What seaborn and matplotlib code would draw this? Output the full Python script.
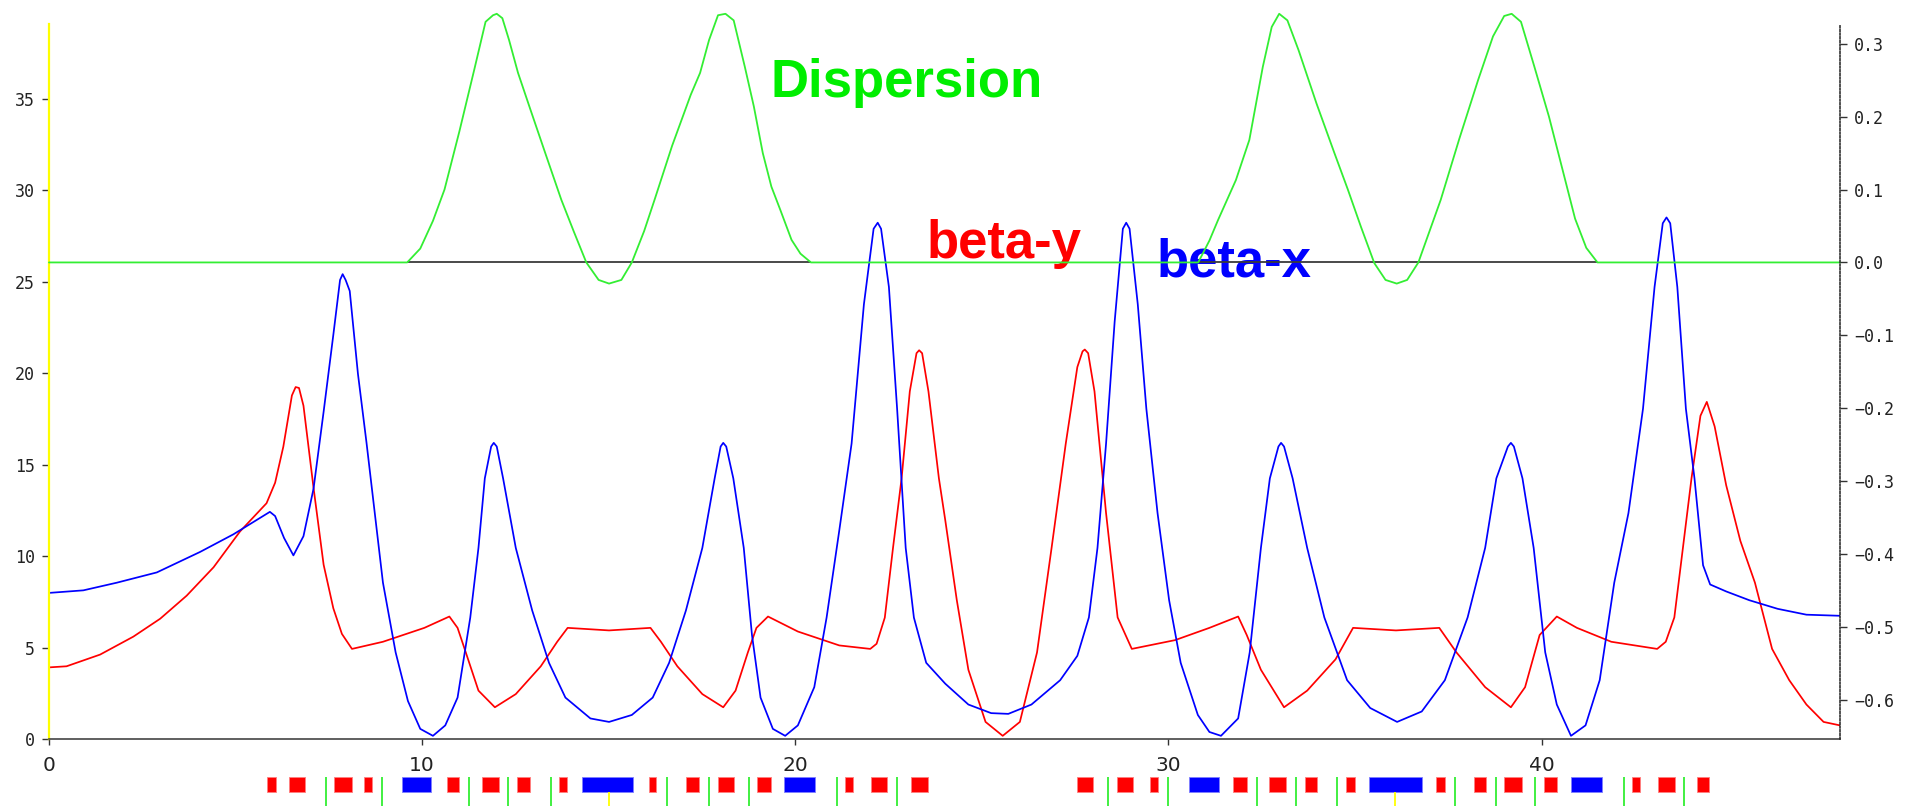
import matplotlib
matplotlib.use("Agg")
import matplotlib.pyplot as plt
import pandas as pd
import seaborn as sns

# Horizontal beta function (m) along the ring position s (m)
s_betax = [0.0, 0.92, 1.82, 2.89, 4.05, 4.94, 5.5, 5.92, 6.06, 6.3, 6.55, 6.82, 7.09, 7.36,
           7.62, 7.8, 7.87, 7.95, 8.06, 8.28, 8.51, 8.73, 8.95, 9.29, 9.62, 9.95, 10.29,
           10.62, 10.95, 11.29, 11.51, 11.68, 11.85, 11.92, 12.0, 12.17, 12.51, 12.95, 13.40,
           13.84, 14.51, 15.01, 15.62, 16.18, 16.62, 17.07, 17.51, 17.84, 18.0, 18.07, 18.15,
           18.34, 18.62, 18.84, 19.07, 19.40, 19.73, 20.07, 20.51, 20.84, 21.18, 21.51, 21.84,
           22.1, 22.21, 22.3, 22.51, 22.73, 22.96, 23.18, 23.51, 24.02, 24.64, 25.25, 25.71,
           26.33, 27.10, 27.56, 27.87, 28.10, 28.33, 28.56, 28.78, 28.87, 28.96, 29.18, 29.41,
           29.71, 30.02, 30.33, 30.79, 31.10, 31.41, 31.87, 32.18, 32.48, 32.72, 32.95, 33.02,
           33.1, 33.33, 33.72, 34.18, 34.79, 35.41, 36.13, 36.79, 37.41, 38.02, 38.49, 38.79,
           39.1, 39.18, 39.26, 39.49, 39.79, 40.10, 40.41, 40.79, 41.18, 41.56, 41.95, 42.33,
           42.72, 43.03, 43.25, 43.35, 43.45, 43.64, 43.87, 44.10, 44.33, 44.52, 44.95, 45.57,
           46.33, 47.10, 48.0]
betax = [8.0, 8.14, 8.56, 9.12, 10.24, 11.2, 11.9, 12.43, 12.2, 11.0, 10.05, 11.1, 13.7, 17.9,
         22.1, 25.1, 25.42, 25.1, 24.5, 19.97, 16.2, 12.36, 8.56, 4.75, 2.09, 0.57, 0.19,
         0.76, 2.28, 6.65, 10.46, 14.26, 16.0, 16.2, 16.0, 14.26, 10.46, 7.04, 4.18,
         2.28, 1.14, 0.95, 1.33, 2.28, 4.18, 7.04, 10.46, 14.26, 16.0, 16.2, 16.0,
         14.26, 10.46, 5.7, 2.28, 0.57, 0.19, 0.76, 2.85, 6.65, 11.41, 16.16, 23.77,
         27.9, 28.23, 27.9, 24.72, 18.06, 10.46, 6.65, 4.18, 3.04, 1.90, 1.43, 1.39,
         1.90, 3.23, 4.56, 6.66, 10.46, 16.16, 22.82, 27.9, 28.23, 27.9, 23.77, 18.06,
         12.36, 7.6, 4.18, 1.33, 0.4, 0.19, 1.14, 4.75, 10.46, 14.26, 16.0, 16.2,
         16.0, 14.26, 10.46, 6.66, 3.23, 1.71, 0.95, 1.52, 3.23, 6.66, 10.46, 14.26,
         16.0, 16.2, 16.0, 14.26, 10.46, 4.75, 1.90, 0.19, 0.76, 3.23, 8.56, 12.36,
         18.06, 24.72, 28.2, 28.52, 28.2, 24.72, 18.06, 14.26, 9.51, 8.46, 8.08, 7.6,
         7.13, 6.81, 6.75]

# Vertical beta function (m)
s_betay = [0.0, 0.47, 1.37, 2.26, 2.98, 3.69, 4.41, 5.12, 5.83, 6.06, 6.28, 6.51, 6.61, 6.7,
           6.82, 7.09, 7.36, 7.62, 7.85, 8.12, 8.95, 10.06, 10.73, 10.95, 11.17, 11.51, 11.95,
           12.51, 13.18, 13.62, 13.90, 15.01, 16.12, 16.40, 16.84, 17.51, 18.07, 18.40, 18.73,
           18.96, 19.27, 20.07, 21.18, 22.01, 22.18, 22.40, 22.62, 22.85, 23.07, 23.25, 23.32,
           23.4, 23.57, 23.85, 24.02, 24.33, 24.64, 25.10, 25.56, 26.02, 26.48, 26.87, 27.25,
           27.56, 27.7, 27.76, 27.85, 28.02, 28.33, 28.64, 29.02, 30.18, 31.10, 31.87, 32.10,
           32.48, 33.10, 33.72, 34.48, 34.95, 36.10, 37.26, 37.72, 38.49, 39.18, 39.56, 39.95,
           40.41, 40.95, 41.87, 43.10, 43.33, 43.56, 43.79, 44.02, 44.26, 44.43, 44.64, 44.95,
           45.33, 45.72, 46.18, 46.64, 47.10, 47.56, 48.0]
betay = [3.93, 3.99, 4.63, 5.61, 6.59, 7.85, 9.40, 11.36, 12.90, 14.02, 15.99, 18.79, 19.25, 19.2,
         18.23, 13.74, 9.54, 7.16, 5.76, 4.94, 5.33, 6.09, 6.71, 6.09, 4.75, 2.66, 1.75,
         2.47, 3.99, 5.33, 6.09, 5.95, 6.09, 5.33, 3.99, 2.47, 1.75, 2.66, 4.75,
         6.09, 6.71, 5.89, 5.13, 4.94, 5.22, 6.65, 10.46, 14.26, 19.01, 21.1, 21.26,
         21.1, 19.01, 14.26, 11.98, 7.6, 3.8, 0.95, 0.19, 0.95, 4.75, 10.46, 16.16,
         20.34, 21.2, 21.3, 21.1, 19.01, 12.36, 6.66, 4.94, 5.42, 6.09, 6.71, 5.7,
         3.8, 1.75, 2.66, 4.37, 6.09, 5.95, 6.09, 4.75, 2.85, 1.75, 2.85, 5.7,
         6.71, 6.09, 5.33, 4.94, 5.33, 6.66, 10.46, 14.26, 17.68, 18.44, 17.1, 13.88,
         10.84, 8.56, 4.94, 3.23, 1.9, 0.95, 0.76]

# Horizontal dispersion (m)
s_disp = [0.0, 9.6, 9.95, 10.29, 10.6, 11.0, 11.4, 11.7, 11.9, 12.0, 12.15, 12.33, 12.57, 12.9,
          13.3, 13.73, 14.06, 14.4, 14.73, 15.01, 15.34, 15.62, 15.95, 16.23, 16.7, 17.2,
          17.45, 17.69, 17.93, 18.13, 18.35, 18.65, 18.89, 19.13, 19.36, 19.60, 19.90, 20.14,
          20.42, 30.8, 31.1, 31.33, 31.81, 32.17, 32.53, 32.77, 32.97, 33.19, 33.49, 33.97,
          34.45, 34.81, 35.16, 35.52, 35.82, 36.12, 36.4, 36.7, 37.0, 37.3, 37.8, 38.3,
          38.7, 39.0, 39.2, 39.45, 39.8, 40.2, 40.6, 40.9, 41.2, 41.5, 48.0]
disp = [0.0, 0.0, 0.019, 0.057, 0.10, 0.18, 0.265, 0.33, 0.339, 0.341, 0.335, 0.305, 0.26, 0.21,
        0.15, 0.086, 0.043, 0.0, -0.024, -0.029, -0.024, 0.0, 0.043, 0.086, 0.16, 0.23,
        0.26, 0.305, 0.339, 0.341, 0.332, 0.268, 0.214, 0.15, 0.104, 0.072, 0.031, 0.012,
        0.0, 0.0, 0.03, 0.058, 0.113, 0.168, 0.268, 0.323, 0.341, 0.332, 0.291, 0.218,
        0.15, 0.1, 0.049, -0.001, -0.024, -0.029, -0.024, 0.0, 0.043, 0.086, 0.17, 0.25,
        0.31, 0.338, 0.341, 0.33, 0.27, 0.2, 0.12, 0.06, 0.02, 0.0, 0.0]

# Stretches where the dispersion is non-zero (zero reference drawn in black there)
disp_zone_start = [9.6, 30.8]
disp_zone_end = [20.42, 41.5]

# Lattice elements along s
quad_spans = [(5.84, 6.08), (6.42, 6.86), (7.64, 8.12), (8.45, 8.66), (10.66, 10.98),
              (11.60, 12.05), (12.54, 12.90), (13.68, 13.88), (16.09, 16.28), (17.07, 17.43),
              (17.93, 18.36), (18.97, 19.34), (21.34, 21.54), (22.04, 22.47), (23.10, 23.55),
              (27.55, 27.99), (28.61, 29.04), (29.51, 29.73), (31.73, 32.10), (32.69, 33.16),
              (33.65, 33.98), (34.76, 34.99), (37.18, 37.41), (38.19, 38.52), (38.99, 39.49),
              (40.06, 40.42), (42.43, 42.65), (43.13, 43.57), (44.18, 44.50)]
dipole_spans = [(9.47, 10.24), (14.29, 15.66), (19.71, 20.52),
                (30.56, 31.37), (35.37, 36.79), (40.80, 41.61)]
monitor_pos = [7.42, 8.93, 11.25, 12.31, 13.46, 16.55, 17.69, 18.77, 21.12, 22.74,
               28.37, 30.0, 32.38, 33.43, 34.53, 37.67, 38.78, 39.83, 42.20, 43.83]
marker_pos = [15.0, 36.08]

# Axis ticks
s_ticks = [0, 10, 20, 30, 40]
beta_ticks = [0, 5, 10, 15, 20, 25, 30, 35]
disp_ticks = [-0.6, -0.5, -0.4, -0.3, -0.2, -0.1, 0.0, 0.1, 0.2, 0.3]

# Curve labels: (text, s, beta, colour)
labels = [("Dispersion", 19.33, 35.1, "#00ee00"),
          ("beta-y", 23.52, 26.3, "#ff0000"),
          ("beta-x", 29.69, 25.28, "#0000ff")]

sns.set_style("white")
plt.rcParams["font.family"] = ["DejaVu Sans"]

RED, BLUE, GREEN, YELLOW = "#ff0000", "#0000ff", "#33ee33", "#ffff00"
W_PX, H_PX = 1916, 806
L, R, T, B = 49, 1840, 24, 739.3

fig = plt.figure(figsize=(W_PX / 100, H_PX / 100), dpi=100)
ax = fig.add_axes([L / W_PX, 1 - B / H_PX, (R - L) / W_PX, (B - T) / H_PX])
ax2 = ax.twinx()

df_bx = pd.DataFrame({"s": s_betax, "beta": betax})
df_by = pd.DataFrame({"s": s_betay, "beta": betay})
df_d = pd.DataFrame({"s": s_disp, "eta": disp})

sns.lineplot(data=df_by, x="s", y="beta", ax=ax, color=RED, lw=1.25,
             estimator=None, sort=False)
sns.lineplot(data=df_bx, x="s", y="beta", ax=ax, color=BLUE, lw=1.25,
             estimator=None, sort=False)

ax2.hlines([0] * len(disp_zone_start), disp_zone_start, disp_zone_end,
           color="#3a3a3a", lw=1.3, zorder=1)
sns.lineplot(data=df_d, x="s", y="eta", ax=ax2, color=GREEN, lw=1.3,
             estimator=None, sort=False)
ax2.lines[-1].set_clip_on(False)

for text, xs, yb, col in labels:
    ax.text(xs, yb, text, color=col, fontsize=38, fontweight="bold",
            family=["Liberation Sans", "DejaVu Sans"], ha="left", va="baseline",
            zorder=5)

ax.set_xlim(0, 48.0)
ax.set_ylim(0, 39.09)
ax2.set_ylim(-0.654, 0.327)
ax.set_xlabel("")
ax.set_ylabel("")
ax2.set_xlabel("")
ax2.set_ylabel("")

mono = ["DejaVu Sans Mono"]
ax.set_xticks(s_ticks, labels=[str(t) for t in s_ticks],
              fontfamily=["Liberation Sans Narrow", "DejaVu Sans"], fontsize=14.5,
              color="#222222")
ax.set_yticks(beta_ticks, labels=[str(t) for t in beta_ticks],
              fontfamily=mono, fontsize=12, color="#222222")
ax2.set_yticks(disp_ticks,
               labels=[f"{v:.1f}".replace("-", "\u2212") for v in disp_ticks],
               fontfamily=mono, fontsize=12, color="#222222")

ax.tick_params(axis="x", direction="out", length=4.3, width=1, pad=8, color="#333333",
               bottom=True)
ax.tick_params(axis="y", direction="out", length=5, width=1, pad=5, color="#333333",
               left=True)
ax2.tick_params(axis="y", direction="out", length=5, width=1, pad=5, color="#333333",
                right=True)

for sp in ("top", "right"):
    ax.spines[sp].set_visible(False)
ax.spines["left"].set_color(YELLOW)
ax.spines["left"].set_linewidth(1.6)
ax.spines["bottom"].set_color("#444444")
ax.spines["bottom"].set_linewidth(1.2)
for sp in ("top", "left", "bottom"):
    ax2.spines[sp].set_visible(False)
ax2.spines["right"].set_color("#222222")
ax2.spines["right"].set_linewidth(1.1)
ax2.spines["right"].set_linestyle((0, (1.2, 1.2)))

# Lattice strip under the plot
ax_lat = fig.add_axes([L / W_PX, 0, (R - L) / W_PX, 29 / H_PX])
ax_lat.set_xlim(0, 48.0)
ax_lat.set_ylim(0, 29)
ax_lat.axis("off")
ax_lat.broken_barh([(a, b - a) for a, b in quad_spans], (14, 15),
                   facecolor=RED, edgecolor="#ff8080", lw=0.6)
ax_lat.broken_barh([(a, b - a) for a, b in dipole_spans], (14, 15),
                   facecolor=BLUE, edgecolor="#8080ff", lw=0.6)
ax_lat.vlines(monitor_pos, 0, 29, color=GREEN, lw=1.3)
ax_lat.vlines(marker_pos, 0, 14, color=YELLOW, lw=1.3)

fig.savefig("out.png", dpi=100, facecolor="white")
